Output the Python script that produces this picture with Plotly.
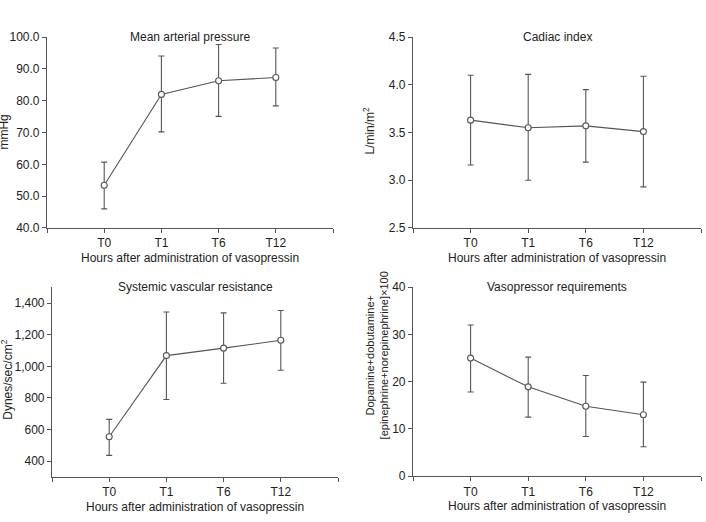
import plotly.graph_objects as go

W, H = 706, 522

categories = ["T0", "T1", "T6", "T12"]

map_mean = [53.4, 82.0, 86.3, 87.3]
map_plus = [7.3, 12.1, 11.4, 9.3]
map_minus = [7.4, 11.8, 11.2, 8.9]

ci_mean = [3.63, 3.55, 3.57, 3.51]
ci_plus = [0.47, 0.56, 0.38, 0.58]
ci_minus = [0.47, 0.55, 0.38, 0.58]

svr_mean = [555, 1068, 1115, 1165]
svr_plus = [110, 276, 223, 188]
svr_minus = [118, 278, 222, 190]

vp_mean = [25.0, 18.9, 14.8, 13.0]
vp_plus = [7.0, 6.3, 6.5, 6.9]
vp_minus = [7.2, 6.4, 6.4, 6.8]

panel_titles = ["Mean arterial pressure", "Cadiac index",
                "Systemic vascular resistance", "Vasopressor requirements"]
y_titles = ["mmHg", "L/min/m<sup>2</sup>", "Dynes/sec/cm<sup>2</sup>",
            "Dopamine+dobutamine+<br>[epinephrine+norepinephrine]×100"]
x_title = "Hours after administration of vasopressin"

y_ranges = [[40, 100], [2.5, 4.5], [300, 1500], [0, 40]]
y_ticks = [[40, 50, 60, 70, 80, 90, 100],
           [2.5, 3.0, 3.5, 4.0, 4.5],
           [400, 600, 800, 1000, 1200, 1400],
           [0, 10, 20, 30, 40]]
y_formats = [".1f", ".1f", ",d", "d"]

# pixel boxes: (left, right, top, bottom)
boxes = [(47, 333, 31, 227), (413, 701, 31, 227),
         (52, 338, 288, 483), (413, 701, 288, 482)]
ytitle_pos = [(4, 129), (369, 127), (7, 383), (377, 358)]
ytitle_size = [12, 12, 12, 11]

series = [(map_mean, map_plus, map_minus), (ci_mean, ci_plus, ci_minus),
          (svr_mean, svr_plus, svr_minus), (vp_mean, vp_plus, vp_minus)]

LINE = "#555555"
TXT = "#222222"
FONT = "Liberation Sans, Arial, sans-serif"

fig = go.Figure()
xpos = list(range(len(categories)))
annotations = []

for i in range(4):
    sfx = "" if i == 0 else str(i + 1)
    mean, plus, minus = series[i]
    fig.add_trace(go.Scatter(
        x=xpos, y=mean, mode="lines+markers",
        xaxis="x" + sfx, yaxis="y" + sfx,
        line=dict(color=LINE, width=1.1),
        marker=dict(symbol="circle", size=6, color="white",
                    line=dict(color=LINE, width=1.1)),
        error_y=dict(type="data", array=plus, arrayminus=minus,
                     color=LINE, thickness=1.1, width=3),
        showlegend=False, cliponaxis=False,
    ))
    l, r, t, b = boxes[i]
    fig.layout["xaxis" + sfx] = dict(
        domain=[l / W, r / W], anchor="y" + sfx,
        range=[-1, len(categories)],
        tickmode="array", tickvals=[-1] + xpos + [len(categories)],
        ticktext=[""] + categories + [""],
        showline=True, linecolor=LINE, linewidth=1.1,
        ticks="outside", ticklen=4, tickcolor=LINE, tickwidth=1.1,
        showgrid=False, zeroline=False,
        tickfont=dict(size=12, color=TXT, family=FONT),
    )
    fig.layout["yaxis" + sfx] = dict(
        domain=[1 - b / H, 1 - t / H], anchor="x" + sfx,
        range=y_ranges[i], tickmode="array", tickvals=y_ticks[i],
        tickformat=y_formats[i],
        showline=True, linecolor=LINE, linewidth=1.1,
        ticks="outside", ticklen=4, tickcolor=LINE, tickwidth=1.1,
        showgrid=False, zeroline=False,
        tickfont=dict(size=12, color=TXT, family=FONT),
    )
    cx = (l + r) / 2
    annotations.append(dict(
        text=panel_titles[i], x=cx / W, y=1 - t / H, xref="paper", yref="paper",
        xanchor="center", yanchor="middle", showarrow=False,
        font=dict(size=12, color=TXT, family=FONT)))
    annotations.append(dict(
        text=x_title, x=cx / W, y=1 - (b + 31) / H, xref="paper", yref="paper",
        xanchor="center", yanchor="middle", showarrow=False,
        font=dict(size=12, color=TXT, family=FONT)))
    tx, ty = ytitle_pos[i]
    annotations.append(dict(
        text=y_titles[i], x=tx / W, y=1 - ty / H, xref="paper", yref="paper",
        xanchor="center", yanchor="middle", showarrow=False, textangle=-90,
        font=dict(size=ytitle_size[i], color=TXT, family=FONT)))

fig.update_layout(
    width=W, height=H, margin=dict(l=0, r=0, t=0, b=0),
    paper_bgcolor="white", plot_bgcolor="white",
    annotations=annotations,
)

fig.write_html("out.html")
